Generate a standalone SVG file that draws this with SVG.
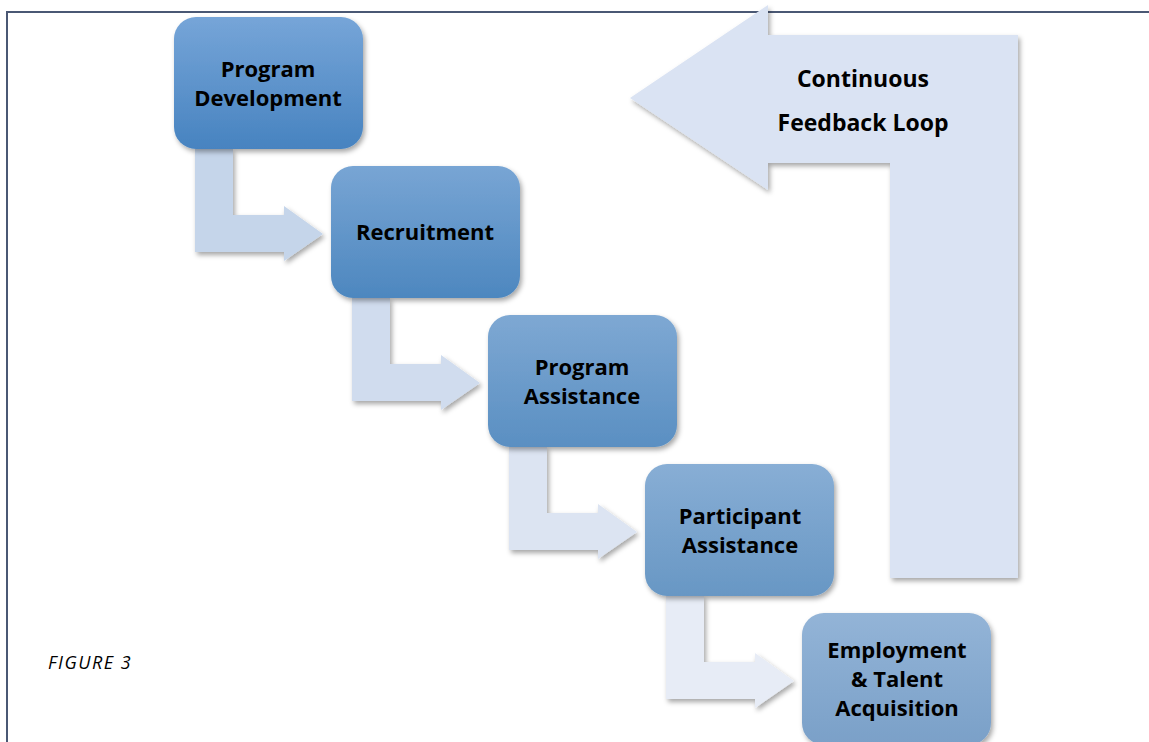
<svg xmlns="http://www.w3.org/2000/svg" width="1149" height="742" viewBox="0 0 1149 742">
<defs>
<style>
.node text{font-family:"Open Sans","Noto Sans",sans-serif;font-weight:bold;font-size:22px;fill:#000;text-anchor:middle}
.fb{font-family:"Open Sans","Noto Sans",sans-serif;font-weight:bold;font-size:23px;fill:#000;text-anchor:middle}
.cap{font-family:"Open Sans","Noto Sans",sans-serif;font-style:italic;font-size:18px;letter-spacing:1.5px;fill:#000}
</style>
<filter id="sh" x="-20%" y="-20%" width="140%" height="140%">
<feDropShadow dx="2" dy="3" stdDeviation="2.5" flood-color="#000" flood-opacity="0.35"/>
</filter>
<linearGradient id="g1" x1="0" y1="0" x2="0" y2="1"><stop offset="0" stop-color="#76a5d8"/><stop offset="1" stop-color="#4783c0"/></linearGradient>
<linearGradient id="g2" x1="0" y1="0" x2="0" y2="1"><stop offset="0" stop-color="#78a5d4"/><stop offset="1" stop-color="#4d87bf"/></linearGradient>
<linearGradient id="g3" x1="0" y1="0" x2="0" y2="1"><stop offset="0" stop-color="#7ea8d3"/><stop offset="1" stop-color="#5a8fc2"/></linearGradient>
<linearGradient id="g4" x1="0" y1="0" x2="0" y2="1"><stop offset="0" stop-color="#88aed5"/><stop offset="1" stop-color="#6897c4"/></linearGradient>
<linearGradient id="g5" x1="0" y1="0" x2="0" y2="1"><stop offset="0" stop-color="#93b4d7"/><stop offset="1" stop-color="#7aa0c8"/></linearGradient>
</defs>
<rect width="1149" height="742" fill="#fff"/>
<path d="M7 742 V12 H1149" fill="none" stroke="#4a5874" stroke-width="2"/>
<g id="connectors">
<polygon filter="url(#sh)" fill="#c5d5ea" points="195,149 233,149 233,215 284,215 284,206 323,234 284,261 284,252 195,252"/>
<polygon filter="url(#sh)" fill="#d0dcee" points="352,298 390,298 390,364 441,364 441,355 480,383 441,410 441,401 352,401"/>
<polygon filter="url(#sh)" fill="#dce4f2" points="509,447 547,447 547,513 598,513 598,504 637,532 598,559 598,550 509,550"/>
<polygon filter="url(#sh)" fill="#e7ecf6" points="666,596 704,596 704,662 755,662 755,653 794,681 755,708 755,699 666,699"/>
</g>
<g id="feedback">
<polygon filter="url(#sh)" fill="#dae3f3" points="630,98 768,5 768,35 1018,35 1018,578 890,578 890,163 768,163 768,190"/>
<text class="fb" x="863" y="87">Continuous</text>
<text class="fb" x="863" y="131">Feedback Loop</text>
</g>
<g id="n1" class="node">
<rect x="174" y="17" width="189" height="132" rx="22" fill="url(#g1)" filter="url(#sh)"/>
<text x="268" y="77">Program</text>
<text x="268" y="106">Development</text>
</g>
<g id="n2" class="node">
<rect x="331" y="166" width="189" height="132" rx="22" fill="url(#g2)" filter="url(#sh)"/>
<text x="425" y="240">Recruitment</text>
</g>
<g id="n3" class="node">
<rect x="488" y="315" width="189" height="132" rx="22" fill="url(#g3)" filter="url(#sh)"/>
<text x="582" y="375">Program</text>
<text x="582" y="404">Assistance</text>
</g>
<g id="n4" class="node">
<rect x="645" y="464" width="189" height="132" rx="22" fill="url(#g4)" filter="url(#sh)"/>
<text x="740" y="524">Participant</text>
<text x="740" y="553">Assistance</text>
</g>
<g id="n5" class="node">
<rect x="802" y="613" width="189" height="132" rx="22" fill="url(#g5)" filter="url(#sh)"/>
<text x="897" y="658">Employment</text>
<text x="897" y="687">&amp; Talent</text>
<text x="897" y="716">Acquisition</text>
</g>
<text class="cap" x="48" y="669">FIGURE 3</text>
</svg>
